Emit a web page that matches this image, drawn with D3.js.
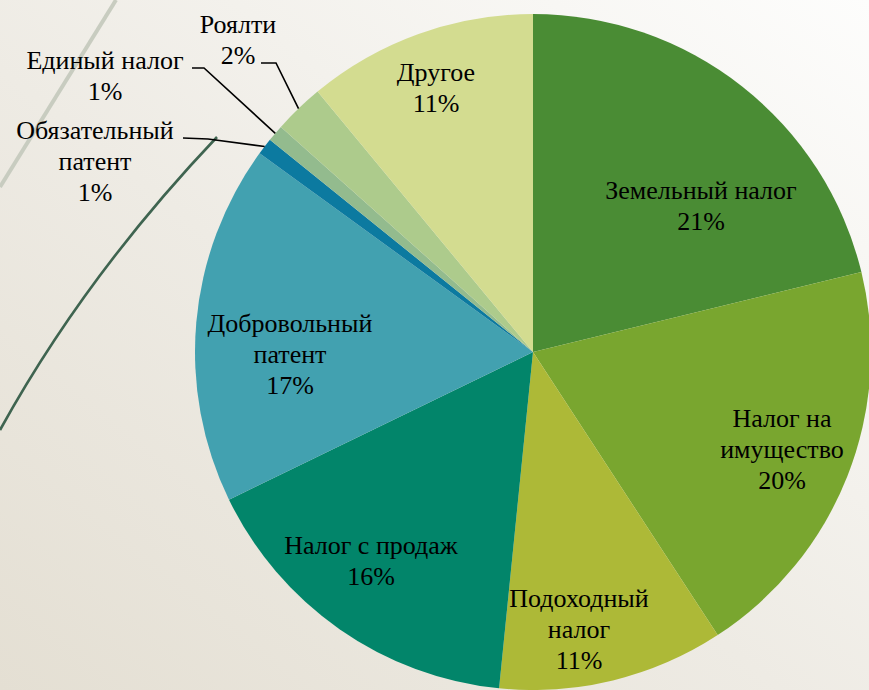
<!DOCTYPE html>
<html>
<head>
<meta charset="utf-8">
<script src="https://cdn.jsdelivr.net/npm/d3@7"></script>
<style>
  html, body { margin: 0; padding: 0; }
  body { width: 869px; height: 690px; overflow: hidden; }
  svg { display: block; }
  .lbl { font-family: "Liberation Serif", "Times New Roman", serif; }
</style>
</head>
<body>
<svg id="chart" width="869" height="690"></svg>
<script>
// ---- data ----
const categories = ["Земельный налог", "Налог на имущество", "Подоходный налог", "Налог с продаж",
  "Добровольный патент", "Обязательный патент", "Единый налог", "Роялти", "Другое"];
const shares = [21.2, 19.6, 10.8, 16.2, 17.2, 0.8, 0.8, 2.4, 11.0];
const labelLines = [["Земельный налог"], ["Налог на", "имущество"], ["Подоходный", "налог"],
  ["Налог с продаж"], ["Добровольный", "патент"], ["Обязательный", "патент"],
  ["Единый налог"], ["Роялти"], ["Другое"]];
const colors = ["#4a8c34", "#79a62f", "#adb937", "#02856a", "#42a1b0", "#0c7aa0", "#93bb8e", "#adcb8c", "#d3dc90"];

// ---- layout ----
const W = 869, H = 690;
const cx = 533, cy = 352, R = 338;
const fontSize = 26, lineH = 31;
const labelPos = [
  [701, 190], [782, 418], [579, 598], [371, 545], [290, 323],
  [95, 130], [105, 60], [238, 24], [436, 72]
];
const leaders = {
  5: [[183, 138], [208, 139]],
  6: [[192, 68], [204, 68]],
  7: [[261, 63], [276, 63]]
};

const svg = d3.select("#chart");
const defs = svg.append("defs");
const bg = defs.append("linearGradient").attr("id", "bg")
  .attr("x1", 0).attr("y1", 1).attr("x2", 1).attr("y2", 0);
bg.append("stop").attr("offset", 0).attr("stop-color", "#e4dfd3");
bg.append("stop").attr("offset", 0.45).attr("stop-color", "#eeebe4");
bg.append("stop").attr("offset", 1).attr("stop-color", "#fdfdfc");
svg.append("rect").attr("width", W).attr("height", H).attr("fill", "url(#bg)");

svg.append("path").attr("d", "M116,0 L0,187")
  .attr("stroke", "#c8ccc0").attr("stroke-width", 4).attr("fill", "none");
svg.append("path").attr("d", "M217,137 Q85,276 0,430")
  .attr("stroke", "#3f6450").attr("stroke-width", 2.6).attr("fill", "none");

const pie = d3.pie().sort(null).value(d => d)(shares);
const arc = d3.arc().innerRadius(0).outerRadius(R);
const g = svg.append("g").attr("transform", `translate(${cx},${cy})`);
g.selectAll("path.slice").data(pie).join("path")
  .attr("class", "slice")
  .attr("d", arc)
  .attr("fill", (d, i) => colors[i]);

const edge = d3.arc().innerRadius(R).outerRadius(R);
Object.keys(leaders).forEach(k => {
  const i = +k;
  const c = edge.centroid(pie[i]);
  const pts = [leaders[i][0], leaders[i][1], [c[0] + cx, c[1] + cy]];
  svg.append("path").attr("d", d3.line()(pts))
    .attr("stroke", "#000").attr("stroke-width", 1.6).attr("fill", "none");
});

const lg = svg.append("g").attr("class", "lbl")
  .attr("font-size", fontSize).attr("fill", "#000").attr("text-anchor", "middle");
categories.forEach((c, i) => {
  const lines = labelLines[i].concat([Math.round(shares[i]) + "%"]);
  const t = lg.append("text").attr("class", "lbl").attr("x", labelPos[i][0]).attr("y", labelPos[i][1]);
  lines.forEach((ln, j) => {
    t.append("tspan").attr("x", labelPos[i][0]).attr("y", labelPos[i][1] + j * lineH)
      .attr("dominant-baseline", "central").text(ln);
  });
});
</script>
</body>
</html>
